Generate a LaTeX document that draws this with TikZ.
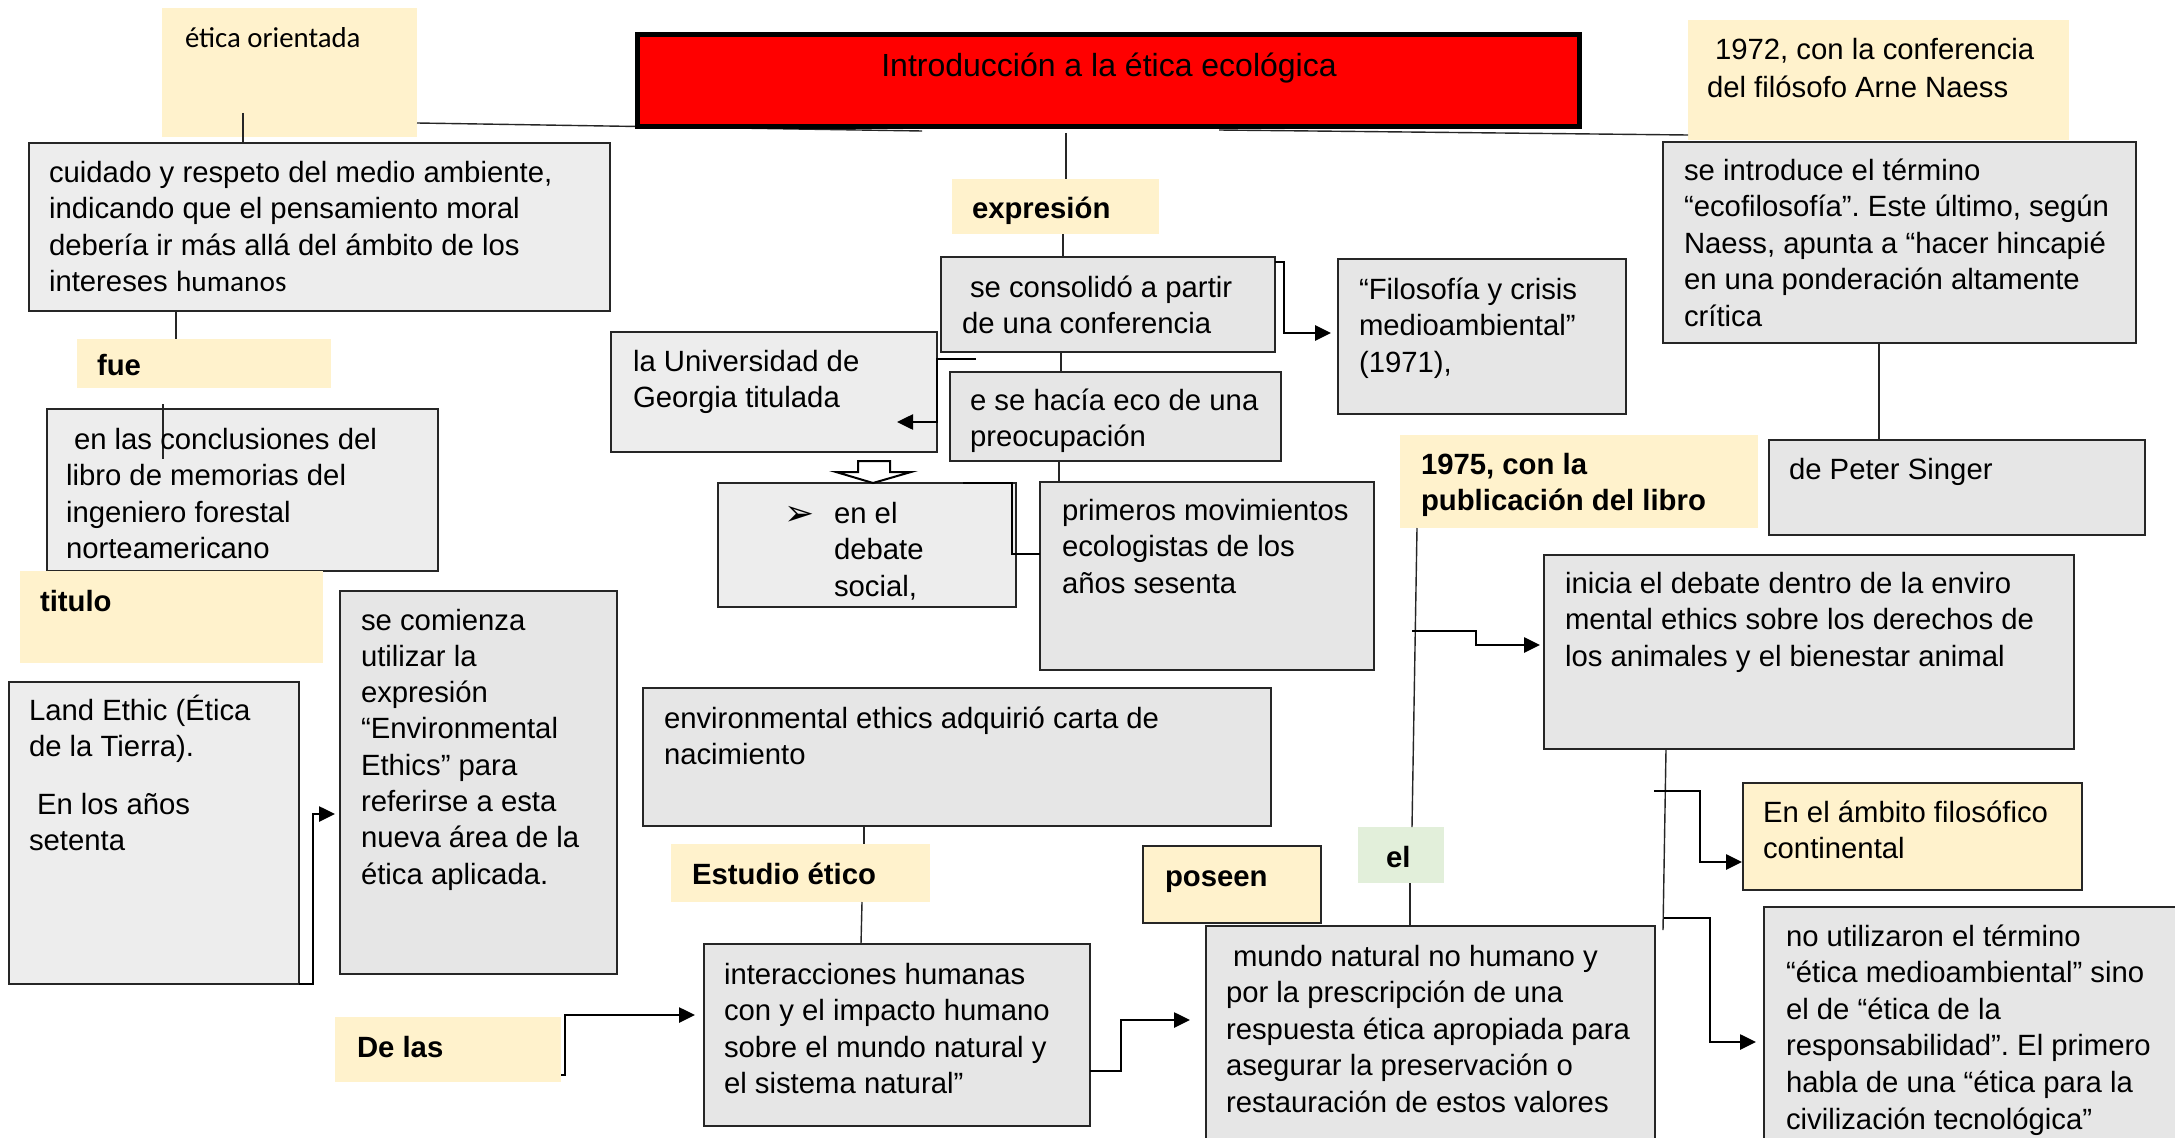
\documentclass[tikz,border=0pt]{standalone}
\usepackage{fontspec}
\setmainfont{Liberation Sans}
\newfontfamily\calfont{Carlito}
\newfontfamily\dvfont{DejaVu Sans}
\usetikzlibrary{arrows.meta}
\definecolor{ylw}{HTML}{FFF2CC}
\definecolor{grn}{HTML}{E2EFDA}
\definecolor{gA}{HTML}{EDEDED}
\definecolor{gB}{HTML}{E6E6E6}
\definecolor{edge}{HTML}{262626}
\frenchspacing
\newcommand\fs{\fontsize{29.3}{36.6}\selectfont}
\newcommand\lns[1]{\begin{tabular}[t]{@{}l@{}}#1\end{tabular}}
\begin{document}
\begin{tikzpicture}[x=1pt,y=-1pt,
  boxA/.style={draw=edge,line width=2pt,fill=gA,inner sep=0pt,outer sep=0pt,anchor=north west},
  boxB/.style={boxA,fill=gB},
  ybox/.style={fill=ylw,inner sep=0pt,outer sep=0pt,anchor=north west},
  yboxd/.style={boxA,fill=ylw},
  gbox/.style={fill=grn,inner sep=0pt,outer sep=0pt,anchor=north west},
  txt/.style={font=\fs,inner sep=0pt,outer sep=0pt,anchor=base west},
  btxt/.style={txt,font=\fs\bfseries},
  conn/.style={draw=edge,line width=1.4pt},
  elb/.style={draw=black,line width=2.6pt},
  elbow/.style={elb,-{Triangle[length=16pt,width=15pt]}},
  ]
\useasboundingbox (0,0) rectangle (2175,1137);
\clip (0,0) rectangle (2175,1137);
\fill[white] (0,0) rectangle (2175,1137);

% ---------- boxes ----------
\node[ybox,minimum width=255pt,minimum height=129pt] (eo) at (162,8) {};
\node[boxA,minimum width=581pt,minimum height=168pt] (cuidado) at (29,143) {};
\node[ybox,minimum width=254pt,minimum height=49pt] (fue) at (77,339) {};
\node[boxA,minimum width=391pt,minimum height=162pt] (concl) at (47,409) {};
\node[ybox,minimum width=303pt,minimum height=92pt] (titulo) at (20,571) {};
\node[boxA,minimum width=290pt,minimum height=302pt] (land) at (9,682) {};
\node[boxB,minimum width=277pt,minimum height=383pt] (comienza) at (340,591) {};
\node[boxA,minimum width=326pt,minimum height=120pt] (univ) at (611,332) {};
\node[boxB,minimum width=334pt,minimum height=95pt] (consol) at (941,257) {};
\node[ybox,minimum width=207pt,minimum height=55pt] (expr) at (952,179) {};
\node[boxB,minimum width=288pt,minimum height=155pt] (filo) at (1338,259) {};
\node[ybox,minimum width=381pt,minimum height=120pt] (n1972) at (1688,20) {};
\node[boxB,minimum width=473pt,minimum height=201pt] (intro) at (1663,142) {};
\node[boxB,minimum width=376pt,minimum height=95pt] (peter) at (1769,440) {};
\node[boxB,minimum width=331pt,minimum height=89pt] (hacia) at (950,372) {};
\node[boxA,minimum width=298pt,minimum height=124pt] (debate) at (718,483) {};
\node[boxB,minimum width=334pt,minimum height=188pt] (primeros) at (1040,482) {};
\node[boxB,minimum width=628pt,minimum height=138pt] (env) at (643,688) {};
\node[ybox,minimum width=259pt,minimum height=58pt] (estudio) at (671,844) {};
\node[boxB,minimum width=386pt,minimum height=182pt] (inter) at (704,944) {};
\node[ybox,minimum width=226pt,minimum height=65pt] (delas) at (335,1017) {};
\node[yboxd,minimum width=178pt,minimum height=77pt] (poseen) at (1143,846) {};
\node[boxB,minimum width=449pt,minimum height=250pt] (mundo) at (1206,926) {};
\node[gbox,minimum width=86pt,minimum height=56pt] (el) at (1358,827) {};
\node[ybox,minimum width=358pt,minimum height=93pt] (n1975) at (1400,435) {};
\node[boxB,minimum width=530pt,minimum height=194pt] (inicia) at (1544,555) {};
\node[yboxd,minimum width=339pt,minimum height=107pt] (ambito) at (1743,783) {};
\node[boxB,minimum width=450pt,minimum height=260pt] (noutil) at (1764,907) {};

% ---------- thin connectors ----------
\coordinate (eoA) at (243,113);
\coordinate (eoB) at (922,131);
\coordinate (rdA) at (1066,133);
\coordinate (rdB) at (1219,130);
\coordinate (fuA) at (163,404);
\coordinate (fuB) at (163,459);
\coordinate (inB) at (1663,930);
\draw[conn] (eoA) -- (eoA |- cuidado.north);
\draw[conn] (eo.east |- 0,123) -- (eoB);
\draw[conn] (rdA) -- (rdA |- expr.north);
\draw[conn] (1063,0 |- expr.south) -- (1063,0 |- consol.north);
\draw[conn] (rdB) -- (n1972.west |- 0,135);
\draw[conn] (176,0 |- cuidado.south) -- (176,0 |- fue.north);
\draw[conn] (fuA) -- (fuB);
\draw[conn] (1061,0 |- consol.south) -- (1061,0 |- hacia.north);
\draw[conn] (1059,0 |- hacia.south) -- (1059,0 |- primeros.north);
\draw[conn] (1879,0 |- intro.south) -- (1879,0 |- peter.north);
\draw[conn] (864,0 |- env.south) -- (864,0 |- estudio.north);
\draw[conn] (862,0 |- estudio.south) -- (861,0 |- inter.north);
\draw[conn] (1417,0 |- n1975.south) -- (1412,0 |- el.north);
\draw[conn] (1410,0 |- el.south) -- (1410,0 |- mundo.north);
\draw[conn] (1666,0 |- inicia.south) -- (inB);

% ---------- title box ----------
\node[draw=black,line width=5pt,fill=red,inner sep=0pt,outer sep=0pt,anchor=north west,
  minimum width=942pt,minimum height=92pt] (red) at (637.5,34.5) {};
\node[font=\fontsize{32}{38}\selectfont,inner sep=0pt,anchor=base] (red-t) at (1109,77) {Introducción a la ética ecológica};

% ---------- elbow connectors ----------
\coordinate (ub) at (976,359);
\coordinate (ut) at (897,422);
\coordinate (ga) at (1412,631);
\coordinate (ha) at (1654,791);
\coordinate (ia) at (1664,918);
\draw[elbow,shorten >=5pt] (land.south east) -- ++(14,0) |- (comienza.west |- 0,814);
\draw[elbow] (ub) -- (ub -| univ.east) |- (ut);
\draw[elbow,shorten >=7pt] (consol.east |- 0,262) -- ++(9,0) |- (filo.west |- 0,333);
\draw[elb] (963,0 |- debate.north) -| (1012,554) -- (primeros.west |- 0,554);
\draw[elbow,shorten >=9pt] (delas.east |- 0,1075) -- ++(4,0) |- (inter.west |- 0,1015);
\draw[elbow,shorten >=16pt] (inter.east |- 0,1071) -- ++(31,0) |- (mundo.west |- 0,1020);
\draw[elbow,shorten >=4pt] (ga) -- (1476,631) |- (inicia.west |- 0,645);
\draw[elbow,shorten >=1pt] (ha) -| (1700,862) -- (ambito.west |- 0,862);
\draw[elbow,shorten >=8pt] (ia) -| (1710,1042) -- (noutil.west |- 0,1042);

% hollow block arrow
\draw[line width=2pt,fill=white,line join=miter] (858,461) -- (890,461) -- (890,472) -- (911,472) -- (873,483) -- (836,472) -- (858,472) -- cycle;

% ---------- texts ----------
\node[txt,font=\calfont\fontsize{28.8}{35}\selectfont] (eo-t) at (185,48) {ética orientada};
\node[txt] (cuidado-t) at (49,182) {\lns{cuidado y respeto del medio ambiente,\\indicando que el pensamiento moral\\debería ir más allá del ámbito de los\\intereses {\calfont humanos}}};
\node[btxt] (fue-t) at (97,375) {fue};
\node[txt] (concl-t) at (66,449) {\lns{\hspace*{8pt}en las conclusiones del\\libro de memorias del\\ingeniero forestal\\norteamericano}};
\node[btxt] (titulo-t) at (40,611) {titulo};
\node[txt] (land-t) at (29,720) {\lns{Land Ethic (Ética\\de la Tierra).\\[21pt]\hspace*{8pt}En los años\\setenta}};
\node[txt,font=\fontsize{29.3}{36.3}\selectfont] (comienza-t) at (361,630) {\lns{se comienza\\utilizar la\\expresión\\“Environmental\\Ethics” para\\referirse a esta\\nueva área de la\\ética aplicada.}};
\node[txt] (univ-t) at (633,371) {\lns{la Universidad de\\Georgia titulada}};
\node[txt] (consol-t) at (962,297) {\lns{\hspace*{8pt}se consolidó a partir\\de una conferencia}};
\node[btxt] (expr-t) at (972,218) {expresión};
\node[txt] (filo-t) at (1359,299) {\lns{“Filosofía y crisis\\medioambiental”\\(1971),}};
\node[txt,font=\fontsize{29.3}{37.5}\selectfont] (n1972-t) at (1707,60) {\lns{\hspace*{8pt}1972, con la conferencia\\del filósofo Arne Naess}};
\node[txt,font=\fontsize{29.3}{36.6}\selectfont] (intro-t) at (1684,180) {\lns{se introduce el término\\“ecofilosofía”. Este último, según\\Naess, apunta a “hacer hincapié\\en una ponderación altamente\\crítica}};
\node[txt] (peter-t) at (1789,479) {de Peter Singer};
\node[txt,font=\dvfont\fontsize{36}{40}\selectfont] (bullet-t) at (784,525) {➢};
\node[txt] (debate-t) at (834,523) {\lns{en el\\debate\\social,}};
\node[txt] (primeros-t) at (1062,520) {\lns{primeros movimientos\\ecologistas de los\\años sesenta}};
\node[txt] (hacia-t) at (970,410) {\lns{e se hacía eco de una\\preocupación}};
\node[txt] (env-t) at (664,728) {\lns{environmental ethics adquirió carta de\\nacimiento}};
\node[btxt] (estudio-t) at (692,884) {Estudio ético};
\node[txt] (inter-t) at (724,984) {\lns{interacciones humanas\\con y el impacto humano\\sobre el mundo natural y\\el sistema natural”}};
\node[btxt] (delas-t) at (357,1057) {De las};
\node[btxt] (poseen-t) at (1165,886) {poseen};
\node[txt] (mundo-t) at (1226,966) {\lns{\hspace*{7pt}mundo natural no humano y\\por la prescripción de una\\respuesta ética apropiada para\\asegurar la preservación o\\restauración de estos valores}};
\node[btxt] (el-t) at (1386,867) {el};
\node[btxt,font=\fontsize{29.3}{36}\selectfont\bfseries] (n1975-t) at (1421,474) {\lns{1975, con la\\publicación del libro}};
\node[txt] (inicia-t) at (1565,593) {\lns{inicia el debate dentro de la enviro\\mental ethics sobre los derechos de\\los animales y el bienestar animal}};
\node[txt] (ambito-t) at (1763,822) {\lns{En el ámbito filosófico\\continental}};
\node[txt] (noutil-t) at (1786,946) {\lns{no utilizaron el término\\“ética medioambiental” sino\\el de “ética de la\\responsabilidad”. El primero\\habla de una “ética para la\\civilización tecnológica”}};
\end{tikzpicture}
\end{document}
